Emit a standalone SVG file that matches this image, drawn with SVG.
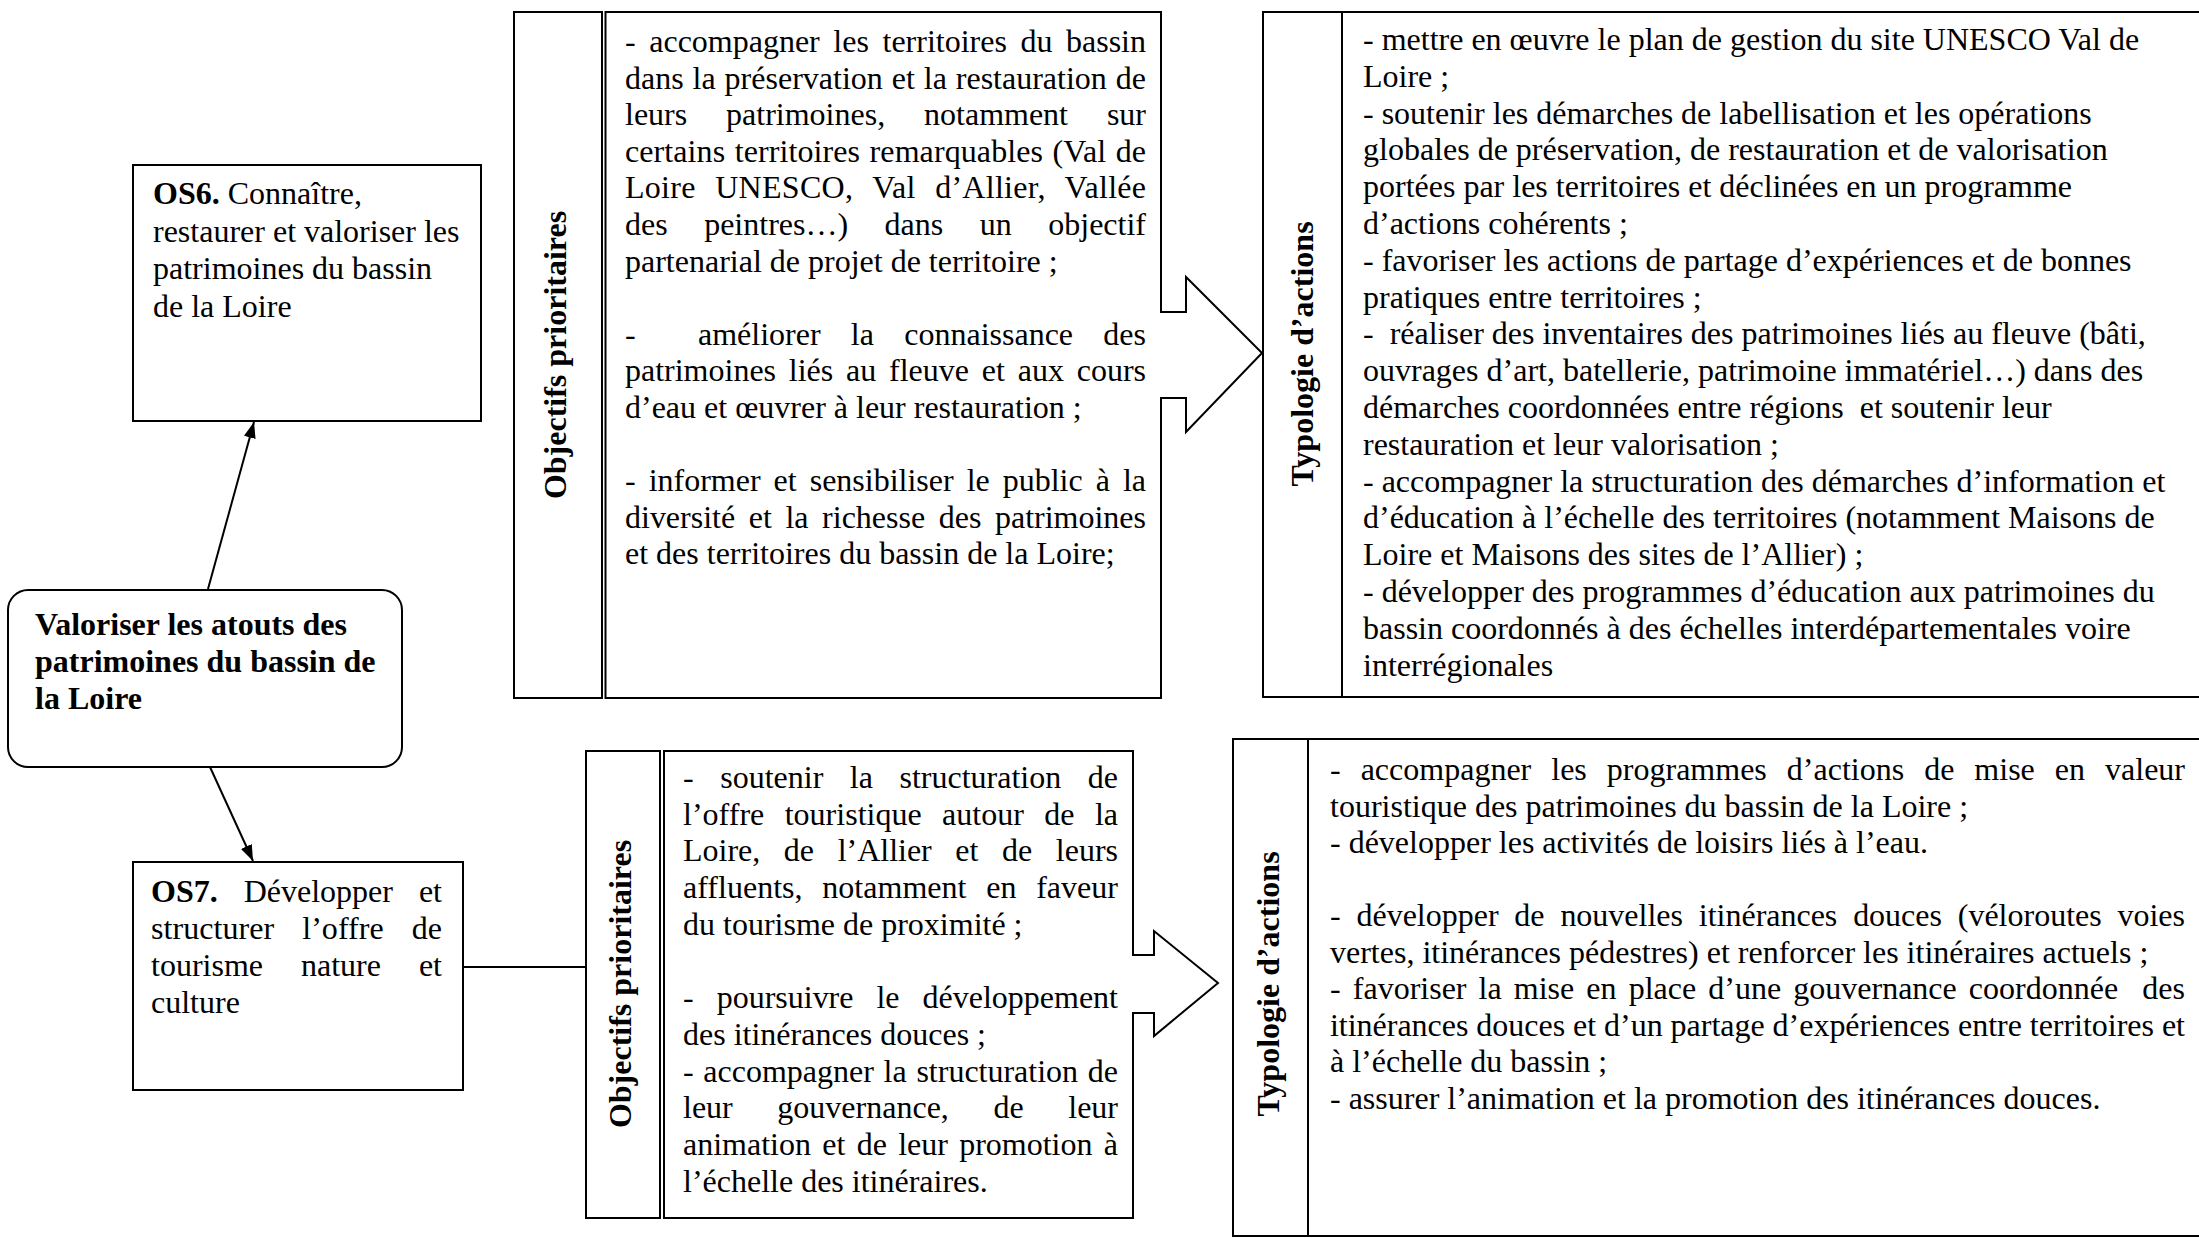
<svg xmlns="http://www.w3.org/2000/svg" width="2199" height="1238" viewBox="0 0 2199 1238">
<style>
text{font-family:"Liberation Serif","Times New Roman",serif;font-size:32px;fill:#000}
.b{font-weight:bold}
.box{fill:#fff;stroke:#000;stroke-width:2}
.ln{fill:none;stroke:#000;stroke-width:2}
</style>
<defs>
<marker id="ah" markerUnits="userSpaceOnUse" viewBox="0 0 16 12" refX="16" refY="6" markerWidth="16" markerHeight="12" orient="auto">
<path d="M0,0 L16,6 L0,12 Z" fill="#000"/>
</marker>
</defs>
<rect x="0" y="0" width="2199" height="1238" fill="#fff"/>

<g id="connectors">
<line class="ln" x1="208" y1="589" x2="254" y2="422" marker-end="url(#ah)"/>
<line class="ln" x1="210" y1="767" x2="253" y2="861" marker-end="url(#ah)"/>
<line class="ln" x1="463" y1="967" x2="586" y2="967"/>
</g>

<g id="n-central">
<rect class="box" x="8" y="590" width="394" height="177" rx="20"/>
<text class="b" x="35" y="635">Valoriser les atouts des</text>
<text class="b" x="35" y="672">patrimoines du bassin de</text>
<text class="b" x="35" y="709">la Loire</text>
</g>

<g id="n-os6">
<rect class="box" x="133" y="165" width="348" height="256"/>
<text x="153" y="204"><tspan class="b">OS6.</tspan> Connaître,</text>
<text x="153" y="241.5">restaurer et valoriser les</text>
<text x="153" y="279">patrimoines du bassin</text>
<text x="153" y="316.5">de la Loire</text>
</g>

<g id="n-os7">
<rect class="box" x="133" y="862" width="330" height="228"/>
<text x="151" y="902" textLength="291" lengthAdjust="spacing" style="word-spacing:18px"><tspan class="b">OS7.</tspan> Développer et</text>
<text x="151" y="939" textLength="291" lengthAdjust="spacing" style="word-spacing:20px">structurer l’offre de</text>
<text x="151" y="976" textLength="291" lengthAdjust="spacing" style="word-spacing:30px">tourisme nature et</text>
<text x="151" y="1013">culture</text>
</g>

<g id="n-op1">
<rect class="box" x="514" y="12" width="88" height="686"/>
<text class="b" transform="translate(566,355) rotate(-90)" text-anchor="middle">Objectifs prioritaires</text>
<path class="box" d="M605.5,12 H1161 V312 H1186 V277 L1262,353 L1186,432 V398 H1161 V698 H605.5 Z"/>
<text x="625" y="52" textLength="521" lengthAdjust="spacing" style="word-spacing:5.6px">- accompagner les territoires du bassin</text>
<text x="625" y="88.6" textLength="521" lengthAdjust="spacing" style="word-spacing:0.9px">dans la préservation et la restauration de</text>
<text x="625" y="125.2" textLength="521" lengthAdjust="spacing" style="word-spacing:30.9px">leurs patrimoines, notamment sur</text>
<text x="625" y="161.8" textLength="521" lengthAdjust="spacing" style="word-spacing:1.4px">certains territoires remarquables (Val de</text>
<text x="625" y="198.4" textLength="521" lengthAdjust="spacing" style="word-spacing:11.2px">Loire UNESCO, Val d’Allier, Vallée</text>
<text x="625" y="235" textLength="521" lengthAdjust="spacing" style="word-spacing:28.5px">des peintres…) dans un objectif</text>
<text x="625" y="271.6">partenarial de projet de territoire ;</text>
<text x="625" y="344.8">-</text>
<text x="698" y="344.8" textLength="448" lengthAdjust="spacing" style="word-spacing:22.3px">améliorer la connaissance des</text>
<text x="625" y="381.4" textLength="521" lengthAdjust="spacing" style="word-spacing:4.8px">patrimoines liés au fleuve et aux cours</text>
<text x="625" y="418">d’eau et œuvrer à leur restauration ;</text>
<text x="625" y="491.2" textLength="521" lengthAdjust="spacing" style="word-spacing:5px">- informer et sensibiliser le public à la</text>
<text x="625" y="527.8" textLength="521" lengthAdjust="spacing" style="word-spacing:5.6px">diversité et la richesse des patrimoines</text>
<text x="625" y="564.4">et des territoires du bassin de la Loire;</text>
</g>

<g id="n-ta1">
<rect class="box" x="1263" y="12" width="960" height="685"/>
<line class="ln" x1="1342" y1="12" x2="1342" y2="697"/>
<text class="b" transform="translate(1313,354) rotate(-90)" text-anchor="middle">Typologie d’actions</text>
<text x="1363" y="50">- mettre en œuvre le plan de gestion du site UNESCO Val de</text>
<text x="1363" y="86.8">Loire ;</text>
<text x="1363" y="123.6">- soutenir les démarches de labellisation et les opérations</text>
<text x="1363" y="160.4">globales de préservation, de restauration et de valorisation</text>
<text x="1363" y="197.2">portées par les territoires et déclinées en un programme</text>
<text x="1363" y="234">d’actions cohérents ;</text>
<text x="1363" y="270.8">- favoriser les actions de partage d’expériences et de bonnes</text>
<text x="1363" y="307.6">pratiques entre territoires ;</text>
<text x="1363" y="344.4">-&#160; réaliser des inventaires des patrimoines liés au fleuve (bâti,</text>
<text x="1363" y="381.2">ouvrages d’art, batellerie, patrimoine immatériel…) dans des</text>
<text x="1363" y="418">démarches coordonnées entre régions&#160; et soutenir leur</text>
<text x="1363" y="454.8">restauration et leur valorisation ;</text>
<text x="1363" y="491.6">- accompagner la structuration des démarches d’information et</text>
<text x="1363" y="528.4">d’éducation à l’échelle des territoires (notamment Maisons de</text>
<text x="1363" y="565.2">Loire et Maisons des sites de l’Allier) ;</text>
<text x="1363" y="602">- développer des programmes d’éducation aux patrimoines du</text>
<text x="1363" y="638.8">bassin coordonnés à des échelles interdépartementales voire</text>
<text x="1363" y="675.6">interrégionales</text>
</g>

<g id="n-op2">
<rect class="box" x="586" y="751" width="74" height="467"/>
<text class="b" transform="translate(631,984) rotate(-90)" text-anchor="middle">Objectifs prioritaires</text>
<path class="box" d="M664,751 H1133 V955 H1154 V931 L1218,983 L1154,1036 V1013 H1133 V1218 H664 Z"/>
<text x="683" y="788" textLength="435" lengthAdjust="spacing" style="word-spacing:18.5px">- soutenir la structuration de</text>
<text x="683" y="824.7" textLength="435" lengthAdjust="spacing" style="word-spacing:12.3px">l’offre touristique autour de la</text>
<text x="683" y="861.4" textLength="435" lengthAdjust="spacing" style="word-spacing:15.6px">Loire, de l’Allier et de leurs</text>
<text x="683" y="898.1" textLength="435" lengthAdjust="spacing" style="word-spacing:11.7px">affluents, notamment en faveur</text>
<text x="683" y="934.8">du tourisme de proximité ;</text>
<text x="683" y="1008.2" textLength="435" lengthAdjust="spacing" style="word-spacing:15px">- poursuivre le développement</text>
<text x="683" y="1044.9">des itinérances douces ;</text>
<text x="683" y="1081.6" textLength="435" lengthAdjust="spacing" style="word-spacing:1.7px">- accompagner la structuration de</text>
<text x="683" y="1118.3" textLength="435" lengthAdjust="spacing" style="word-spacing:36.6px">leur gouvernance, de leur</text>
<text x="683" y="1155" textLength="435" lengthAdjust="spacing" style="word-spacing:3.3px">animation et de leur promotion à</text>
<text x="683" y="1191.7">l’échelle des itinéraires.</text>
</g>

<g id="n-ta2">
<rect class="box" x="1233" y="739" width="990" height="497"/>
<line class="ln" x1="1308" y1="739" x2="1308" y2="1236"/>
<text class="b" transform="translate(1279,984) rotate(-90)" text-anchor="middle">Typologie d’actions</text>
<text x="1330" y="780" textLength="855" lengthAdjust="spacing" style="word-spacing:12px">- accompagner les programmes d’actions de mise en valeur</text>
<text x="1330" y="816.5">touristique des patrimoines du bassin de la Loire ;</text>
<text x="1330" y="853">- développer les activités de loisirs liés à l’eau.</text>
<text x="1330" y="926" textLength="855" lengthAdjust="spacing" style="word-spacing:7.8px">- développer de nouvelles itinérances douces (véloroutes voies</text>
<text x="1330" y="962.5">vertes, itinérances pédestres) et renforcer les itinéraires actuels ;</text>
<text x="1330" y="999" textLength="855" lengthAdjust="spacing" style="word-spacing:4.1px">- favoriser la mise en place d’une gouvernance coordonnée&#160; des</text>
<text x="1330" y="1035.5" textLength="855" lengthAdjust="spacing">itinérances douces et d’un partage d’expériences entre territoires et</text>
<text x="1330" y="1072">à l’échelle du bassin ;</text>
<text x="1330" y="1108.5">- assurer l’animation et la promotion des itinérances douces.</text>
</g>
</svg>
